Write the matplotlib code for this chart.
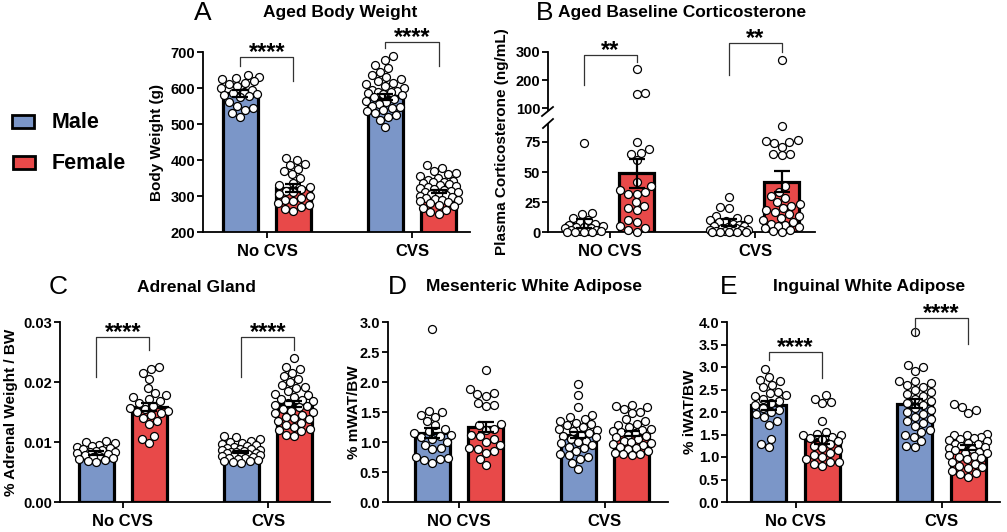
import matplotlib
matplotlib.use('Agg')
import matplotlib.pyplot as plt
from matplotlib.patches import Rectangle
from matplotlib.lines import Line2D
import numpy as np

# ---------------- data ----------------
cats_a = ['No CVS', 'CVS']
cats_b = ['NO CVS', 'CVS']

# A: Aged body weight (g)
bw_male_nocvs = [635, 630, 628, 625, 620, 615, 612, 605, 600, 595, 590, 585, 582,
                 580, 578, 575, 560, 550, 545, 540, 530, 520]
bw_female_nocvs = [405, 400, 390, 385, 375, 370, 360, 350, 335, 330, 325, 320, 315,
                   310, 305, 300, 295, 290, 285, 280, 275, 270, 265, 258]
bw_male_cvs = [688, 678, 665, 655, 645, 635, 630, 625, 620, 615, 610, 605, 600, 595,
               592, 590, 588, 585, 582, 580, 575, 570, 565, 560, 555, 550, 548, 545,
               540, 535, 530, 525, 520, 510, 492]
bw_female_cvs = [385, 378, 370, 365, 360, 355, 350, 345, 342, 340, 338, 335, 332, 330,
                 328, 325, 322, 320, 318, 315, 312, 310, 308, 305, 302, 300, 298, 295,
                 292, 290, 288, 285, 282, 280, 275, 272, 268, 262, 255, 250]
bw_male_mean = [585, 575]
bw_male_sem = [10, 8]
bw_female_mean = [322, 312]
bw_female_sem = [10, 4]

# B: baseline corticosterone (ng/mL)
cort_male_nocvs = [74, 16, 15, 12, 10, 8, 7, 6, 5, 4, 4, 3, 3, 2, 2, 1, 1, 1, 0, 0, 0, 0]
cort_female_nocvs = [240, 155, 150, 75, 69, 66, 65, 60, 42, 38, 35, 33, 32, 32, 25, 22,
                     20, 18, 10, 8, 5, 3, 2, 0]
cort_male_cvs = [29, 21, 20, 13, 12, 11, 10, 9, 8, 7, 6, 5, 5, 4, 3, 3, 2, 2, 2, 1, 1, 1,
                 0, 0, 0, 0, 0]
cort_female_cvs = [270, 88, 77, 76, 75, 74, 71, 65, 64, 65, 38, 33, 30, 28, 25, 23, 22,
                   20, 18, 17, 15, 13, 12, 10, 8, 7, 6, 5, 4, 3, 2, 1, 0]
cort_male_mean = [7, 8]
cort_male_sem = [3.5, 3]
cort_female_mean = [49, 42]
cort_female_sem = [12, 8.5]

# C: adrenal weight / BW (%)
adr_male_nocvs = [0.0102, 0.0100, 0.0098, 0.0095, 0.0093, 0.0092, 0.0090, 0.0088,
                  0.0086, 0.0085, 0.0084, 0.0083, 0.0082, 0.0080, 0.0078, 0.0077,
                  0.0075, 0.0073, 0.0072, 0.0070, 0.0068, 0.0066]
adr_female_nocvs = [0.0225, 0.0222, 0.0215, 0.0205, 0.0190, 0.0182, 0.0178, 0.0175,
                    0.0172, 0.0168, 0.0165, 0.0160, 0.0157, 0.0155, 0.0152, 0.0150,
                    0.0148, 0.0145, 0.0140, 0.0135, 0.0130, 0.0110, 0.0105, 0.0098]
adr_male_cvs = [0.0110, 0.0108, 0.0105, 0.0102, 0.0100, 0.0098, 0.0097, 0.0095, 0.0093,
                0.0092, 0.0090, 0.0089, 0.0088, 0.0087, 0.0086, 0.0085, 0.0084, 0.0083,
                0.0082, 0.0081, 0.0080, 0.0079, 0.0078, 0.0077, 0.0076, 0.0075, 0.0074,
                0.0073, 0.0072, 0.0070, 0.0069, 0.0068, 0.0067, 0.0065]
adr_female_cvs = [0.0240, 0.0225, 0.0222, 0.0215, 0.0210, 0.0205, 0.0200, 0.0195,
                  0.0192, 0.0190, 0.0185, 0.0180, 0.0178, 0.0175, 0.0172, 0.0170,
                  0.0168, 0.0165, 0.0162, 0.0160, 0.0158, 0.0155, 0.0152, 0.0150,
                  0.0148, 0.0145, 0.0142, 0.0140, 0.0138, 0.0135, 0.0132, 0.0128,
                  0.0125, 0.0122, 0.0120, 0.0118, 0.0112, 0.0110]
adr_male_mean = [0.0082, 0.0083]
adr_male_sem = [0.0003, 0.0002]
adr_female_mean = [0.0158, 0.0163]
adr_female_sem = [0.0007, 0.0005]

# D: mesenteric WAT / BW (%)
mwat_male_nocvs = [2.88, 1.52, 1.50, 1.45, 1.42, 1.35, 1.28, 1.22, 1.18, 1.15, 1.12,
                   1.10, 1.08, 1.05, 1.00, 0.95, 0.90, 0.88, 0.75, 0.73, 0.72, 0.70, 0.65]
mwat_female_nocvs = [2.20, 1.88, 1.82, 1.80, 1.76, 1.65, 1.62, 1.60, 1.30, 1.28, 1.22,
                     1.20, 1.12, 1.10, 1.05, 1.00, 0.95, 0.90, 0.88, 0.85, 0.82, 0.72, 0.62]
mwat_male_cvs = [1.97, 1.79, 1.58, 1.45, 1.42, 1.38, 1.35, 1.32, 1.30, 1.28, 1.25, 1.22,
                 1.20, 1.18, 1.15, 1.12, 1.10, 1.08, 1.05, 1.02, 1.00, 0.98, 0.95, 0.92,
                 0.90, 0.85, 0.80, 0.78, 0.75, 0.72, 0.65, 0.55]
mwat_female_cvs = [1.62, 1.60, 1.58, 1.55, 1.50, 1.48, 1.38, 1.35, 1.30, 1.28, 1.25,
                   1.22, 1.20, 1.18, 1.16, 1.15, 1.12, 1.10, 1.08, 1.05, 1.02, 1.00,
                   0.98, 0.96, 0.95, 0.92, 0.90, 0.88, 0.85, 0.82, 0.80, 0.80, 0.78]
mwat_male_mean = [1.15, 1.11]
mwat_male_sem = [0.09, 0.05]
mwat_female_mean = [1.25, 1.14]
mwat_female_sem = [0.09, 0.04]

# E: inguinal WAT / BW (%)
iwat_male_nocvs = [2.95, 2.78, 2.72, 2.68, 2.60, 2.55, 2.45, 2.42, 2.38, 2.35, 2.30,
                   2.25, 2.20, 2.15, 2.10, 2.05, 2.00, 1.95, 1.88, 1.80, 1.72, 1.40,
                   1.30, 1.22]
iwat_female_nocvs = [2.37, 2.30, 2.22, 2.20, 1.80, 1.55, 1.52, 1.50, 1.48, 1.45, 1.42,
                     1.40, 1.35, 1.30, 1.25, 1.20, 1.15, 1.10, 1.05, 1.00, 0.95, 0.90,
                     0.88, 0.85, 0.80]
iwat_male_cvs = [3.78, 3.05, 3.00, 2.92, 2.70, 2.68, 2.65, 2.60, 2.55, 2.50, 2.45, 2.40,
                 2.35, 2.30, 2.25, 2.20, 2.15, 2.10, 2.05, 2.00, 1.95, 1.90, 1.85, 1.80,
                 1.75, 1.70, 1.60, 1.55, 1.50, 1.45, 1.35, 1.25, 1.22]
iwat_female_cvs = [2.18, 2.12, 2.05, 1.98, 1.52, 1.50, 1.48, 1.45, 1.42, 1.40, 1.38,
                   1.35, 1.32, 1.30, 1.28, 1.25, 1.22, 1.20, 1.18, 1.15, 1.12, 1.10,
                   1.08, 1.05, 1.02, 1.00, 0.98, 0.95, 0.90, 0.85, 0.80, 0.78, 0.75,
                   0.70, 0.65, 0.62, 0.55]
iwat_male_mean = [2.15, 2.18]
iwat_male_sem = [0.10, 0.10]
iwat_female_mean = [1.38, 1.21]
iwat_female_sem = [0.08, 0.06]

# ---------------- style ----------------
MALE = '#7B96C8'
FEMALE = '#E84949'
BW = 0.24
OFF = 0.183
plt.rcParams['font.family'] = ['Liberation Sans', 'DejaVu Sans']
plt.rcParams['font.weight'] = 'bold'

W, H = 1007, 532
fig = plt.figure(figsize=(W / 100, H / 100), dpi=100)


def add_ax(l, t, r, b):
    return fig.add_axes([l / W, 1 - b / H, (r - l) / W, (b - t) / H])


def style(ax, xlim, ylim, yticks, fmt, xlabels=None):
    ax.set_xlim(*xlim)
    ax.set_ylim(*ylim)
    ax.patch.set_alpha(0)
    for s in ['top', 'right']:
        ax.spines[s].set_visible(False)
    for s in ['left', 'bottom']:
        ax.spines[s].set_linewidth(1.3)
    ax.set_yticks(yticks)
    ax.set_yticklabels([fmt.format(v) for v in yticks])
    ax.tick_params(axis='y', length=4, width=1.3, pad=1.5, labelsize=10.5)
    if xlabels is None:
        ax.spines['bottom'].set_visible(False)
        ax.set_xticks([])
    else:
        ax.set_xticks([0, 1])
        ax.set_xticklabels(xlabels)
        ax.tick_params(axis='x', length=4, width=1.3, pad=5, labelsize=12)


def swarm(axfor, x0, values, diam=8.4, maxhalf=19):
    vals = np.asarray(values, dtype=float)
    order = np.argsort(vals)
    placed = []
    xs = np.zeros(len(vals))
    for n, i in enumerate(order):
        ax = axfor(vals[i])
        X0, Y = ax.transData.transform((x0, vals[i]))
        sign = 1 if n % 2 == 0 else -1
        cands = [0.0]
        k = 1
        while k * 0.5 <= maxhalf:
            cands += [sign * k * 0.5, -sign * k * 0.5]
            k += 1
        chosen, best, bestoff = None, -1, 0.0
        for c in cands:
            mind = 1e9
            for (px, py) in placed:
                mind = min(mind, np.hypot(X0 + c - px, Y - py))
            if mind >= diam:
                chosen = c
                break
            if mind > best:
                best, bestoff = mind, c
        if chosen is None:
            chosen = bestoff
        placed.append((X0 + chosen, Y))
        xs[i] = ax.transData.inverted().transform((X0 + chosen, Y))[0]
    return xs


def draw_group(ax, axfor, means_m, sems_m, means_f, sems_f, pts_m, pts_f):
    for gi in range(2):
        for off, col, mean, sem, pts in [(-OFF, MALE, means_m[gi], sems_m[gi], pts_m[gi]),
                                         (OFF, FEMALE, means_f[gi], sems_f[gi], pts_f[gi])]:
            x = gi + off
            ax.bar(x, mean, width=BW, color=col, edgecolor='black', linewidth=2.3, zorder=1)
            xs = swarm(axfor, x, pts)
            vals = np.asarray(pts, dtype=float)
            for a in set(axfor(v) for v in vals):
                mask = np.array([axfor(v) is a for v in vals])
                a.scatter(xs[mask], vals[mask], s=33, facecolors='white', edgecolors='black',
                          linewidths=0.9, zorder=3, clip_on=False)
            ax.errorbar(x, mean, yerr=sem, fmt='none', ecolor='black', elinewidth=1.6,
                        capsize=6, capthick=1.6, zorder=4)


def bracket(ax, gi, top, lb, rb, text):
    x1, x2 = gi - OFF, gi + OFF
    ax.plot([x1, x1, x2, x2], [lb, top, top, rb], color='#333333', lw=0.9,
            clip_on=False, zorder=5)
    ax.annotate(text, xy=((x1 + x2) / 2, top), xytext=(0, -1.5), textcoords='offset points',
                ha='center', va='baseline', fontsize=17, annotation_clip=False)


def ylabel(px, py, text, size=11):
    fig.text(px / W, 1 - py / H, text, rotation=90, ha='center', va='center',
             fontsize=size, fontweight='bold')


def title(px_letter, px_center, py, letter, text):
    fig.text(px_letter / W, 1 - py / H, letter, ha='center', va='center',
             fontsize=19, fontweight='normal')
    fig.text(px_center / W, 1 - py / H, text, ha='center', va='center',
             fontsize=12.5, fontweight='bold')


# ---------- Panel A ----------
axA = add_ax(203, 52, 470, 232)
style(axA, (-0.441, 1.40), (200, 700), [200, 300, 400, 500, 600, 700], '{:.0f}', cats_a)
draw_group(axA, lambda v: axA, bw_male_mean, bw_male_sem, bw_female_mean, bw_female_sem,
           [bw_male_nocvs, bw_male_cvs], [bw_female_nocvs, bw_female_cvs])
bracket(axA, 0, 686, 661, 619, '****')
bracket(axA, 1, 728, 711, 661, '****')
ylabel(157, 142, 'Body Weight (g)')
title(203, 340, 13, 'A', 'Aged Body Weight')

# ---------- Panel B ----------
axBu = add_ax(548, 52, 815, 110)
axBl = add_ax(548, 124, 815, 232)
style(axBu, (-0.428, 1.413), (93, 300), [100, 200, 300], '{:.0f}', None)
style(axBl, (-0.428, 1.413), (0, 90), [0, 25, 50, 75], '{:.0f}', cats_b)
pickB = lambda v: axBu if v > 92 else axBl
draw_group(axBl, pickB, cort_male_mean, cort_male_sem, cort_female_mean, cort_female_sem,
           [cort_male_nocvs, cort_male_cvs], [cort_female_nocvs, cort_female_cvs])
bracket(axBu, 0, 290, 183, 266, '**')
bracket(axBu, 1, 331, 217, 300, '**')
for (x1, y1, x2, y2) in [(542, 116, 553, 107), (543, 128, 553, 119)]:
    fig.add_artist(Line2D([x1 / W, x2 / W], [1 - y1 / H, 1 - y2 / H], color='black', lw=1.3))
ylabel(502, 142, 'Plasma Corticosterone (ng/mL)')
title(545, 682, 13, 'B', 'Aged Baseline Corticosterone')

# ---------- Panel C ----------
axC = add_ax(60, 322, 330, 502)
style(axC, (-0.434, 1.428), (0, 0.03), [0.0, 0.01, 0.02, 0.03], '{:.2f}', cats_a)
draw_group(axC, lambda v: axC, adr_male_mean, adr_male_sem, adr_female_mean, adr_female_sem,
           [adr_male_nocvs, adr_male_cvs], [adr_female_nocvs, adr_female_cvs])
bracket(axC, 0, 0.0275, 0.0208, 0.0253, '****')
bracket(axC, 1, 0.0275, 0.0208, 0.0253, '****')
ylabel(11, 412, '% Adrenal Weight / BW')
title(58, 196, 287, 'C', 'Adrenal Gland')

# ---------- Panel D ----------
axD = add_ax(388, 322, 668, 502)
style(axD, (-0.486, 1.432), (0, 3.0), [0, 0.5, 1.0, 1.5, 2.0, 2.5, 3.0], '{:.1f}', cats_b)
draw_group(axD, lambda v: axD, mwat_male_mean, mwat_male_sem, mwat_female_mean, mwat_female_sem,
           [mwat_male_nocvs, mwat_male_cvs], [mwat_female_nocvs, mwat_female_cvs])
ylabel(354, 412, '% mWAT/BW')
title(397, 534, 287, 'D', 'Mesenteric White Adipose')

# ---------- Panel E ----------
axE = add_ax(727, 322, 1000, 502)
style(axE, (-0.47, 1.40), (0, 4.0), [0, 0.5, 1.0, 1.5, 2.0, 2.5, 3.0, 3.5, 4.0], '{:.1f}', cats_a)
draw_group(axE, lambda v: axE, iwat_male_mean, iwat_male_sem, iwat_female_mean, iwat_female_sem,
           [iwat_male_nocvs, iwat_male_cvs], [iwat_female_nocvs, iwat_female_cvs])
bracket(axE, 0, 3.33, 3.16, 2.76, '****')
bracket(axE, 1, 4.09, 3.71, 3.51, '****')
ylabel(690, 412, '% iWAT/BW')
title(729, 869, 287, 'E', 'Inguinal White Adipose')

# ---------- Legend ----------
for (l, t, r, b, col, lab, ty) in [(12, 115, 34, 128, MALE, 'Male', 123),
                                   (13, 156, 35, 169, FEMALE, 'Female', 163)]:
    fig.add_artist(Rectangle((l / W, 1 - b / H), (r - l) / W, (b - t) / H,
                             facecolor=col, edgecolor='black', lw=2.0,
                             transform=fig.transFigure))
    fig.text(52 / W, 1 - ty / H, lab, ha='left', va='center', fontsize=15.5, fontweight='bold')

fig.savefig('out.png', dpi=100)
